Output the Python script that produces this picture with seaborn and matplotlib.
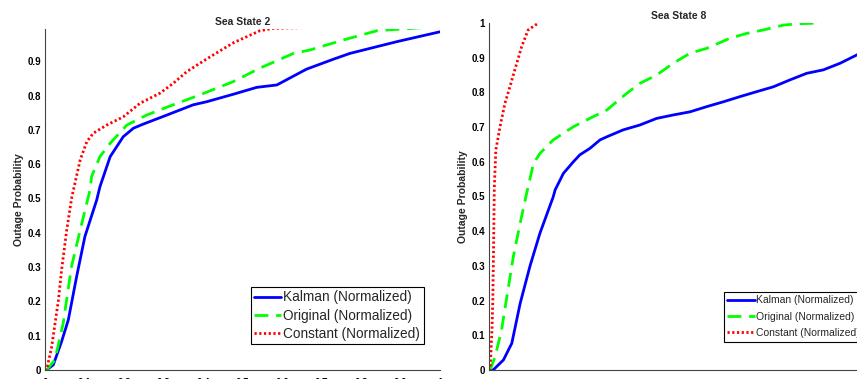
import matplotlib
matplotlib.use("Agg")
import matplotlib.pyplot as plt
import seaborn as sns
import pandas as pd

# ---- data: Sea State 2 ----
s2_kalman_x = [0.0, 0.004, 0.021, 0.042, 0.059, 0.080, 0.101, 0.131, 0.139, 0.165, 0.198, 0.224, 0.249,
               0.308, 0.375, 0.409, 0.477, 0.536, 0.587, 0.662, 0.730, 0.772, 0.890, 1.0]
s2_kalman_y = [0.0, 0.0, 0.015, 0.083, 0.146, 0.272, 0.389, 0.496, 0.534, 0.622, 0.680, 0.705, 0.717,
               0.743, 0.773, 0.782, 0.804, 0.824, 0.831, 0.877, 0.906, 0.923, 0.957, 0.986]
s2_orig_x = [0.0, 0.004, 0.025, 0.046, 0.067, 0.089, 0.114, 0.118, 0.139, 0.165, 0.207, 0.257, 0.308,
             0.392, 0.477, 0.544, 0.629, 0.671, 0.755, 0.840, 0.966]
s2_orig_y = [0.0, 0.0, 0.029, 0.136, 0.301, 0.408, 0.525, 0.564, 0.622, 0.661, 0.714, 0.743, 0.766,
             0.802, 0.841, 0.880, 0.923, 0.933, 0.962, 0.989, 0.999]
s2_const_x = [0.0, 0.004, 0.017, 0.034, 0.042, 0.055, 0.068, 0.072, 0.089, 0.106, 0.122, 0.156, 0.198,
              0.241, 0.291, 0.325, 0.359, 0.392, 0.418, 0.477, 0.544, 0.578, 0.650]
s2_const_y = [0.0, 0.0, 0.068, 0.204, 0.292, 0.408, 0.505, 0.525, 0.612, 0.666, 0.690, 0.714, 0.738,
              0.778, 0.807, 0.836, 0.870, 0.894, 0.913, 0.954, 0.989, 0.996, 0.998]

# ---- data: Sea State 8 ----
s8_kalman_x = [0.0, 0.011, 0.038, 0.060, 0.082, 0.108, 0.134, 0.169, 0.174, 0.196, 0.222, 0.239, 0.266,
               0.292, 0.310, 0.353, 0.397, 0.441, 0.485, 0.529, 0.573, 0.617, 0.661, 0.704, 0.748,
               0.792, 0.836, 0.880, 0.924, 0.968, 1.0]
s8_kalman_y = [0.0, 0.0, 0.029, 0.077, 0.192, 0.300, 0.394, 0.499, 0.519, 0.567, 0.600, 0.620, 0.639,
               0.663, 0.672, 0.692, 0.706, 0.725, 0.735, 0.744, 0.759, 0.773, 0.788, 0.802, 0.816,
               0.836, 0.855, 0.865, 0.884, 0.908, 0.925]
s8_orig_x = [0.0, 0.003, 0.016, 0.033, 0.047, 0.064, 0.082, 0.099, 0.103, 0.117, 0.134, 0.169, 0.222,
             0.274, 0.310, 0.362, 0.397, 0.441, 0.485, 0.529, 0.573, 0.634, 0.678, 0.722, 0.775,
             0.818, 0.875]
s8_orig_y = [0.0, 0.0, 0.038, 0.115, 0.211, 0.327, 0.423, 0.509, 0.528, 0.595, 0.624, 0.663, 0.701,
             0.730, 0.749, 0.797, 0.826, 0.850, 0.884, 0.913, 0.927, 0.956, 0.970, 0.980, 0.994,
             0.998, 1.0]
s8_const_x = [0.0, 0.003, 0.005, 0.008, 0.010, 0.012, 0.014, 0.018, 0.029, 0.042, 0.055, 0.073, 0.086,
              0.103, 0.130]
s8_const_y = [0.0, 0.0, 0.05, 0.12, 0.20, 0.35, 0.528, 0.634, 0.701, 0.769, 0.816, 0.884, 0.932,
              0.980, 1.0]

labels = ["Kalman (Normalized)", "Original (Normalized)", "Constant (Normalized)"]
titles = ["Sea State 2", "Sea State 8"]
x_ticks = [0, 0.1, 0.2, 0.3, 0.4, 0.5, 0.6, 0.7, 0.8, 0.9, 1]
x_tick_labels = ["0", "0.1", "0.2", "0.3", "0.4", "0.5", "0.6", "0.7", "0.8", "0.9", "1"]
y_ticks_left = [0, 0.1, 0.2, 0.3, 0.4, 0.5, 0.6, 0.7, 0.8, 0.9]
y_ticks_right = [0, 0.1, 0.2, 0.3, 0.4, 0.5, 0.6, 0.7, 0.8, 0.9, 1]
y_label = "Outage Probability"

sns.set_style("white")
plt.rcParams["font.family"] = ["Liberation Sans", "DejaVu Sans"]

fig = plt.figure(figsize=(8.57, 3.79), dpi=100)
ax1 = fig.add_axes([45 / 857, 9 / 379, 395 / 857, (370 - 28.7) / 379])
ax2 = fig.add_axes([489 / 857, 9 / 379, 380 / 857, 347 / 379])

styles = [dict(color="#0000ff", lw=2.0, ls="-"),
          dict(color="#00ff00", lw=2.0, ls=(0, (5, 2.8))),
          dict(color="#ff0000", lw=2.0, ls=(0, (0.8, 0.9)))]


def draw(ax, xs, ys):
    for x, y, lab, st in zip(xs, ys, labels, styles):
        df = pd.DataFrame({"x": x, "y": y})
        sns.lineplot(data=df, x="x", y="y", ax=ax, label=lab, color=st["color"],
                     linewidth=st["lw"], linestyle=st["ls"], estimator=None, sort=False)


draw(ax1, [s2_kalman_x, s2_orig_x, s2_const_x], [s2_kalman_y, s2_orig_y, s2_const_y])
draw(ax2, [s8_kalman_x, s8_orig_x, s8_const_x], [s8_kalman_y, s8_orig_y, s8_const_y])

for ax, title, yt, ytop, xpad in [(ax1, titles[0], y_ticks_left, 0.995, 6),
                                  (ax2, titles[1], y_ticks_right, 1.0, 10)]:
    ax.set_xlim(0, 1)
    ax.set_ylim(0, ytop)
    ax.set_xticks(x_ticks)
    ax.set_xticklabels(x_tick_labels)
    ax.set_yticks(yt)
    ax.set_yticklabels([("%g" % v) for v in yt])
    ax.tick_params(direction="in", length=4, width=0.8, colors="#555555", labelcolor="black",
                   labelsize=7, pad=3)
    ax.tick_params(axis="x", pad=xpad)
    for lbl in ax.get_yticklabels() + ax.get_xticklabels():
        lbl.set_fontweight("bold")
    for s in ["top", "right"]:
        ax.spines[s].set_visible(False)
    for s in ["left", "bottom"]:
        ax.spines[s].set_color("#444444")
        ax.spines[s].set_linewidth(0.8)
    ax.set_xlabel("")
    ax.set_ylabel(y_label, fontsize=7.5, fontweight="bold", labelpad=2)
    ax.set_title(title, fontsize=7.5, fontweight="bold", pad=3)
    ax.patch.set_alpha(0)

leg1 = ax1.legend(loc="upper left", bbox_to_anchor=(0.521, 0.243), fontsize=9.8, frameon=True,
                  fancybox=False, edgecolor="black", framealpha=1, borderpad=0.25,
                  handlelength=2.0, handletextpad=0.15, labelspacing=0.3, borderaxespad=0)
leg1.get_frame().set_linewidth(0.8)
leg2 = ax2.legend(loc="upper left", bbox_to_anchor=(0.618, 0.2256), fontsize=7.5, frameon=True,
                  fancybox=False, edgecolor="black", framealpha=1, borderpad=0.35,
                  handlelength=2.6, handletextpad=0.15, labelspacing=0.6, borderaxespad=0)
leg2.get_frame().set_linewidth(0.8)

fig.savefig("out.png", dpi=100)
